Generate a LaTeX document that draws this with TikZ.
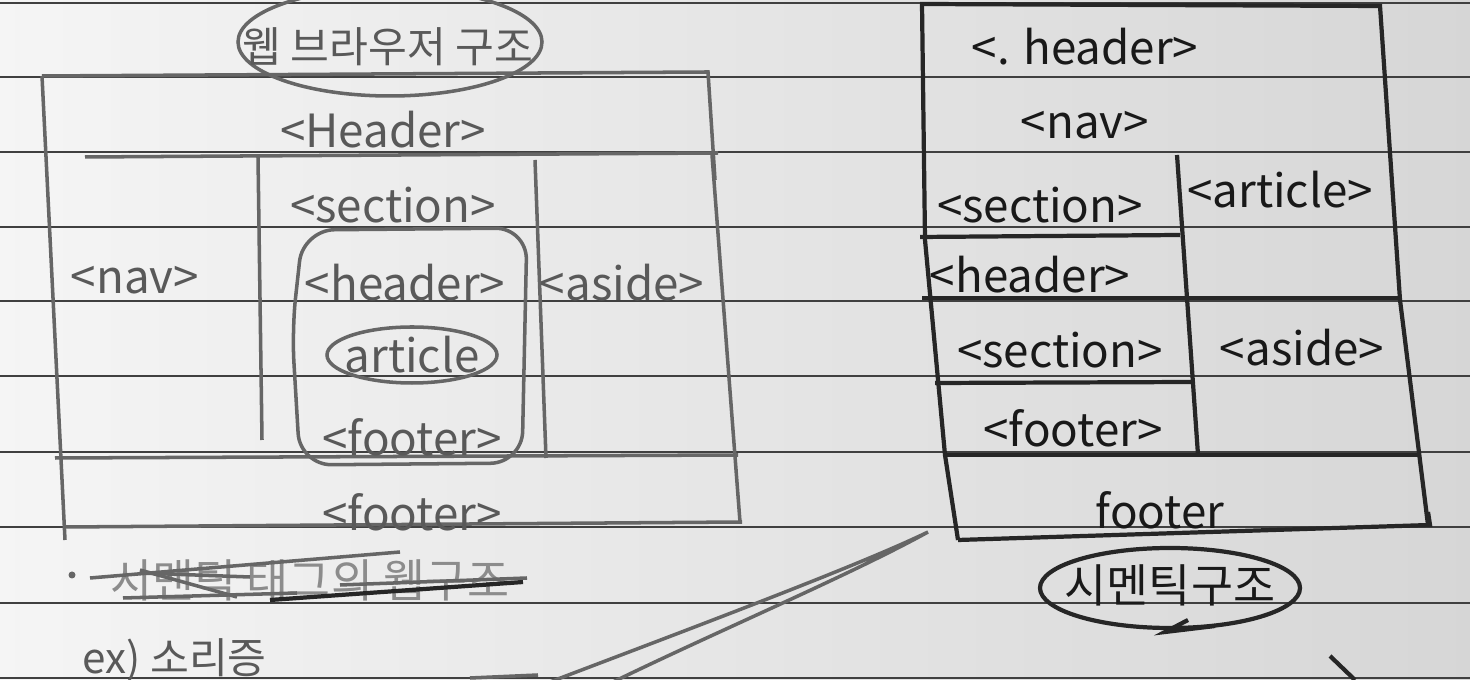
\documentclass[tikz,border=0pt]{standalone}
\usepackage{fontspec}
\setmainfont{Noto Sans CJK KR}
\tikzset{
  rule/.style={draw=black!75, line width=0.6pt},
  pencil/.style={draw=black!60, line width=1pt},
  pen/.style={draw=black!85, line width=1.2pt},
  hand/.style={font=\fontsize{13}{15}\selectfont, text=black!65},
  ink/.style={font=\fontsize{13}{15}\selectfont, text=black!90}
}
\begin{document}
\begin{tikzpicture}[x=0.01cm,y=-0.01cm]
    \useasboundingbox (0,0) rectangle (1470,680);
    \shade[left color=gray!8, right color=gray!32] (0,0) rectangle (1470,680);
    \foreach \y in {3,77,152,227,301,376,452,527,603,678}
        \draw[rule] (0,\y) -- (1470,\y);

    \draw[pencil] (42,76) -- (708,72) -- (715,180);
    \draw[pencil] (42,76) -- (65,540);
    \draw[pencil] (712,155) -- (740,522);
    \draw[pencil] (85,157) -- (718,153);
    \draw[pencil] (258,157) -- (262,440);
    \draw[pencil] (535,160) -- (546,458);
    \draw[pencil] (55,458) -- (738,455);
    \draw[pencil] (65,527) -- (742,522);
    \draw[pencil, rounded corners=9pt] (303,230) -- (527,228) -- (522,463) -- (300,465) -- (292,330) -- cycle;
    \draw[pencil] (412,355) ellipse [x radius=85, y radius=28];
    \draw[pencil] (390,42) ellipse [x radius=152, y radius=54];
    \node[hand, font=\fontsize{12}{14}\selectfont] (title) at (388,47) {웹 브라우저 구조};
    \node[hand] (hdr) at (383,130) {<Header>};
    \node[hand] (sec) at (393,205) {<section>};
    \node[hand] (nav) at (135,280) {<nav>};
    \node[hand] (ihdr) at (405,283) {<header>};
    \node[hand] (aside) at (622,283) {<aside>};
    \node[hand] (art) at (412,355) {article};
    \node[hand] (ifoot) at (412,437) {<footer>};
    \node[hand] (foot) at (412,512) {<footer>};

    \draw[pen] (920,4) -- (1380,6) -- (1400,300) -- (1428,525);
    \draw[pen] (922,4) -- (925,240) -- (945,455) -- (958,540);
    \draw[pen] (1177,155) -- (1198,455);
    \draw[pen] (920,237) -- (1180,235);
    \draw[pen] (922,298) -- (1400,298);
    \draw[pen] (935,383) -- (1192,382);
    \draw[pen] (945,455) -- (1420,455);
    \draw[pen] (958,540) -- (1430,525) -- (1428,512);
    \draw[pen] (1170,588) ellipse [x radius=130, y radius=40];
    \draw[pen] (1188,620) -- (1165,632) -- (1215,626);
    \node[ink] (rhdr) at (1085,47) {<. header>};
    \node[ink] (rnav) at (1085,125) {<nav>};
    \node[ink] (rsec) at (1040,205) {<section>};
    \node[ink] (rart) at (1280,190) {<article>};
    \node[ink] (rihdr) at (1030,275) {<header>};
    \node[ink] (risec) at (1060,350) {<section>};
    \node[ink] (raside) at (1302,348) {<aside>};
    \node[ink] (rifoot) at (1073,428) {<footer>};
    \node[ink] (rfoot) at (1160,510) {footer};
    \node[ink] (sem) at (1170,585) {시멘틱구조};

    \fill[black!60] (72,575) circle[radius=3.5];
    \node[hand, text=black!45] (cross) at (310,580) {시맨틱 태그의 웹구조};
    \draw[pencil] (90,578) -- (400,552);
    \draw[pencil] (140,570) -- (237,597);
    \draw[pencil] (123,598) -- (297,593);
    \draw[pen] (270,600) -- (523,582);
    \draw[pencil] (340,585) -- (527,578);
    \draw[pencil] (140,573) -- (250,577);
    \node[hand, anchor=west, font=\fontsize{12}{14}\selectfont] (ex) at (70,660) {ex) 소리증};

    \draw[pencil] (550,682) .. controls (700,625) and (860,565) .. (928,532) .. controls (850,575) and (720,630) .. (613,682);
    \draw[pencil] (470,678) -- (538,675);
    \draw[pen] (1330,656) -- (1355,680);
\end{tikzpicture}
\end{document}
